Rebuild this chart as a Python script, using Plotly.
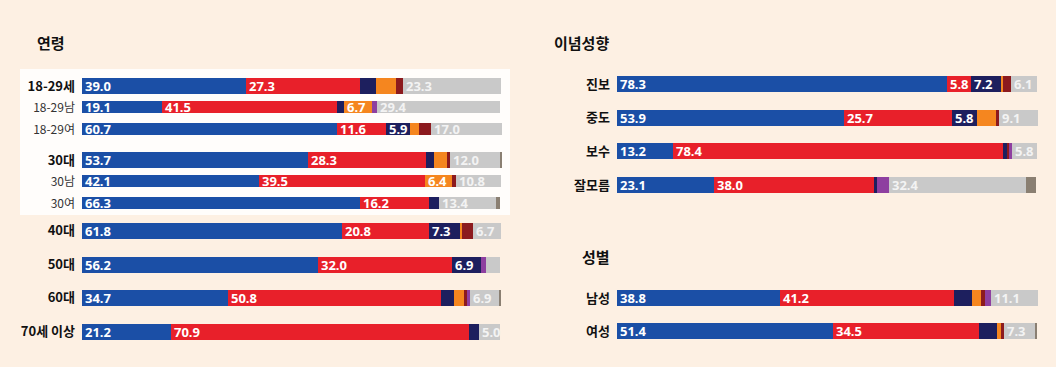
import plotly.graph_objects as go

# ---------------- data ----------------
series_names = ["더불어민주당", "국민의힘", "조국혁신당", "개혁신당", "진보당", "기타", "없음/모름", "무응답"]

age_rows = ["18-29세", "18-29남", "18-29여", "30대", "30남", "30여", "40대", "50대", "60대", "70세 이상"]
age_blue   = [39.0, 19.1, 60.7, 53.7, 42.1, 66.3, 61.8, 56.2, 34.7, 21.2]
age_red    = [27.3, 41.5, 11.6, 28.3, 39.5, 16.2, 20.8, 32.0, 50.8, 70.9]
age_navy   = [3.6, 1.7, 5.9, 1.7, 0.0, 2.6, 7.3, 6.9, 3.1, 2.4]
age_orange = [4.8, 6.7, 2.1, 3.1, 6.4, 0.0, 0.5, 0.0, 2.4, 0.0]
age_maroon = [1.7, 0.0, 2.7, 0.7, 1.0, 0.0, 2.6, 0.0, 0.7, 0.0]
age_purple = [0.0, 1.2, 0.0, 0.0, 0.0, 0.0, 0.0, 1.2, 0.7, 0.0]
age_gray   = [23.3, 29.4, 17.0, 12.0, 10.8, 13.4, 6.7, 3.3, 6.9, 5.0]
age_other  = [0.0, 0.0, 0.0, 0.5, 0.0, 1.0, 0.0, 0.0, 0.5, 0.0]

ideo_rows = ["진보", "중도", "보수", "잘모름"]
ideo_blue   = [78.3, 53.9, 13.2, 23.1]
ideo_red    = [5.8, 25.7, 78.4, 38.0]
ideo_navy   = [7.2, 5.8, 1.0, 0.7]
ideo_orange = [0.4, 4.7, 0.0, 0.0]
ideo_maroon = [2.0, 0.7, 0.5, 0.0]
ideo_purple = [0.0, 0.0, 0.8, 2.9]
ideo_gray   = [6.1, 9.1, 5.8, 32.4]
ideo_other  = [0.0, 0.0, 0.0, 2.4]

sex_rows = ["남성", "여성"]
sex_blue   = [38.8, 51.4]
sex_red    = [41.2, 34.5]
sex_navy   = [4.3, 4.3]
sex_orange = [2.2, 0.9]
sex_maroon = [1.0, 0.9]
sex_purple = [1.4, 0.0]
sex_gray   = [11.1, 7.3]
sex_other  = [0.0, 0.5]

main_rows = {"18-29세", "30대", "40대", "50대", "60대", "70세 이상",
             "진보", "중도", "보수", "잘모름", "남성", "여성"}

# ---------------- style ----------------
W, H = 1056, 367
BG = "#fdf0e3"
colors = ["#1b4fa6", "#e8202a", "#1d1f5e", "#f5861f", "#8c1a1e", "#8e3fa0", "#c9c9c9", "#8a7f72"]
text_colors = ["white", "white", "white", "white", "white", "white", "#f3f3f3", "white"]
FONT_KR = "Noto Sans CJK KR"
FONT_NUM = "Noto Sans"


def px_x(p):
    return p / W


def px_y(p):
    return 1 - p / H


age_series = [age_blue, age_red, age_navy, age_orange, age_maroon, age_purple, age_gray, age_other]
ideo_series = [ideo_blue, ideo_red, ideo_navy, ideo_orange, ideo_maroon, ideo_purple, ideo_gray, ideo_other]
sex_series = [sex_blue, sex_red, sex_navy, sex_orange, sex_maroon, sex_purple, sex_gray, sex_other]

LEFT = (82, 502)
RIGHT = (617, 1038)

# (rows, series, slice start, slice end, x pixel span, first row centre, row spacing)
groups = [
    (age_rows, age_series, 0, 3, LEFT, 86.0, 21.5),
    (age_rows, age_series, 3, 6, LEFT, 160.0, 21.5),
    (age_rows, age_series, 6, 10, LEFT, 230.5, 33.7),
    (ideo_rows, ideo_series, 0, 4, RIGHT, 84.0, 33.7),
    (sex_rows, sex_series, 0, 2, RIGHT, 298.0, 33.5),
]

fig = go.Figure()
layout_axes = {}

for gi, (rows, series, a, b, xspan, c0, sp) in enumerate(groups, start=1):
    sub_rows = rows[a:b]
    n = len(sub_rows)
    widths = [(16.0 if r in main_rows else 12.0) / sp for r in sub_rows]
    for si, vals in enumerate(series):
        v = vals[a:b]
        fig.add_trace(go.Bar(
            y=sub_rows, x=v, orientation="h",
            name=series_names[si],
            marker=dict(color=colors[si], line=dict(width=0)),
            width=widths,
            text=[f"{x:.1f}" if x >= 5 else "" for x in v],
            textposition="inside", insidetextanchor="start", textangle=0,
            textfont=dict(family=FONT_NUM, size=13, color=text_colors[si], weight="bold"),
            xaxis=f"x{gi}", yaxis=f"y{gi}", showlegend=False,
            hovertemplate="%{y} " + series_names[si] + ": %{x}<extra></extra>",
        ))
    top = c0 - sp / 2
    bottom = top + sp * n
    ticktext = []
    for r in sub_rows:
        if r in main_rows:
            ticktext.append(f"<b>{r}</b>")
        else:
            ticktext.append(f"<span style='font-size:12px;color:#333'>{r}</span>")
    sfx = "" if gi == 1 else str(gi)
    layout_axes[f"xaxis{sfx}"] = dict(
        domain=[px_x(xspan[0]), px_x(xspan[1])], range=[0, 100],
        anchor=f"y{gi}", visible=False, fixedrange=True,
    )
    layout_axes[f"yaxis{sfx}"] = dict(
        domain=[px_y(bottom), px_y(top)], anchor=f"x{gi}",
        type="category", range=[n - 0.5, -0.5],
        tickvals=sub_rows, ticktext=ticktext, ticks="",
        ticklabelstandoff=6,
        tickfont=dict(family=FONT_KR, size=13, color="#111"),
        showgrid=False, zeroline=False, showline=False, fixedrange=True,
    )

fig.update_layout(
    width=W, height=H, barmode="stack", bargap=0,
    margin=dict(l=0, r=0, t=0, b=0),
    paper_bgcolor=BG, plot_bgcolor="rgba(0,0,0,0)",
    uniformtext=dict(minsize=12, mode="show"),
    showlegend=False,
    **layout_axes,
)

# highlight box behind 18-29 / 30 groups
fig.add_shape(type="rect", xref="paper", yref="paper",
              x0=px_x(20), x1=px_x(510), y0=px_y(215), y1=px_y(69),
              fillcolor="rgba(255,255,255,0.85)", line=dict(width=0), layer="below")

titles = [("연령", 35, 42), ("이념성향", 552, 42), ("성별", 580, 256)]
for t, x, y in titles:
    fig.add_annotation(text=f"<b>{t}</b>", xref="paper", yref="paper",
                       x=px_x(x), y=px_y(y), xanchor="left", yanchor="middle",
                       showarrow=False, font=dict(family=FONT_KR, size=15, color="#111"))

fig.write_html(
    "out.html",
    config={"displayModeBar": False},
    post_script="document.body.style.margin='0';document.body.style.overflow='hidden';"
                "document.body.style.background='" + BG + "';",
)
